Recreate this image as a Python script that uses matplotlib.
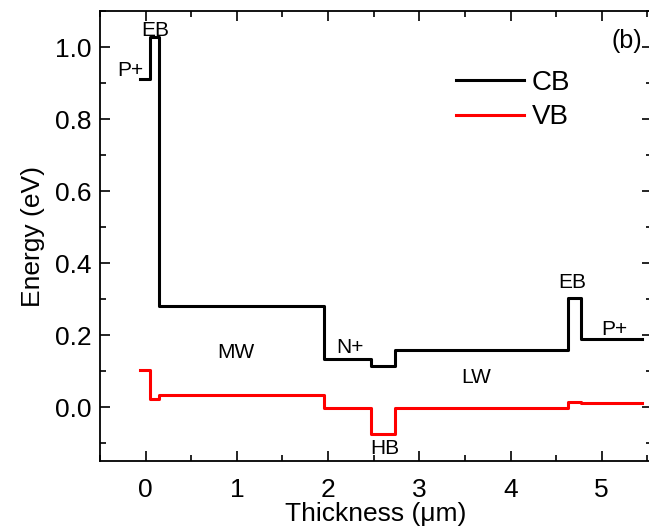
import matplotlib
matplotlib.use('Agg')
import matplotlib.pyplot as plt
from matplotlib.ticker import MultipleLocator

plt.rcParams['font.family'] = ['Liberation Sans', 'DejaVu Sans']

# layer boundaries (um) and band edge levels (eV) for each layer
edges = [-0.06, 0.05, 0.15, 1.95, 2.47, 2.73, 4.63, 4.77, 5.44]
cb_levels = [0.91, 1.027, 0.28, 0.134, 0.113, 0.158, 0.304, 0.188]
vb_levels = [0.104, 0.023, 0.033, -0.003, -0.075, -0.003, 0.014, 0.011]

# region labels: (text, x, y)
region_labels = [
    ('P+', -0.17, 0.935),
    ('EB', 0.11, 1.047),
    ('MW', 0.985, 0.152),
    ('N+', 2.245, 0.166),
    ('LW', 3.62, 0.082),
    ('HB', 2.62, -0.115),
    ('EB', 4.675, 0.345),
    ('P+', 5.135, 0.216),
]

fig = plt.figure(figsize=(6.49, 5.29), dpi=100)
ax = fig.add_axes([0.1541, 0.1285, 0.8504, 0.8507])

ax.plot(edges, cb_levels + [cb_levels[-1]], drawstyle='steps-post',
        color='black', lw=2.2, label='CB')
ax.plot(edges, vb_levels + [vb_levels[-1]], drawstyle='steps-post',
        color='red', lw=2.2, label='VB')

for txt, x, y in region_labels:
    ax.text(x, y, txt, fontsize=15, ha='center', va='center')
ax.text(5.27, 1.018, '(b)', fontsize=18, ha='center', va='center')

ax.set_xlim(-0.5, 5.55)
ax.set_ylim(-0.15, 1.1)
ax.xaxis.set_major_locator(MultipleLocator(1))
ax.xaxis.set_minor_locator(MultipleLocator(0.5))
ax.yaxis.set_major_locator(MultipleLocator(0.2))
ax.yaxis.set_minor_locator(MultipleLocator(0.1))
ax.tick_params(which='both', direction='in', top=True, right=True,
               labelsize=19, width=1.2)
ax.tick_params(which='major', length=7)
ax.tick_params(which='minor', length=4)
ax.tick_params(axis='x', which='major', pad=12)
ax.tick_params(axis='y', which='major', pad=6)
for s in ax.spines.values():
    s.set_linewidth(1.3)

ax.set_xlabel('Thickness (\u03bcm)', fontsize=19, labelpad=0)
ax.set_ylabel('Energy (eV)', fontsize=19, labelpad=7)

ax.legend(loc='upper left', bbox_to_anchor=(0.619, 0.900), frameon=False,
          borderpad=0, fontsize=20, handlelength=2.45, handletextpad=0.3,
          labelspacing=0.3)

fig.savefig('out.png', dpi=100)
